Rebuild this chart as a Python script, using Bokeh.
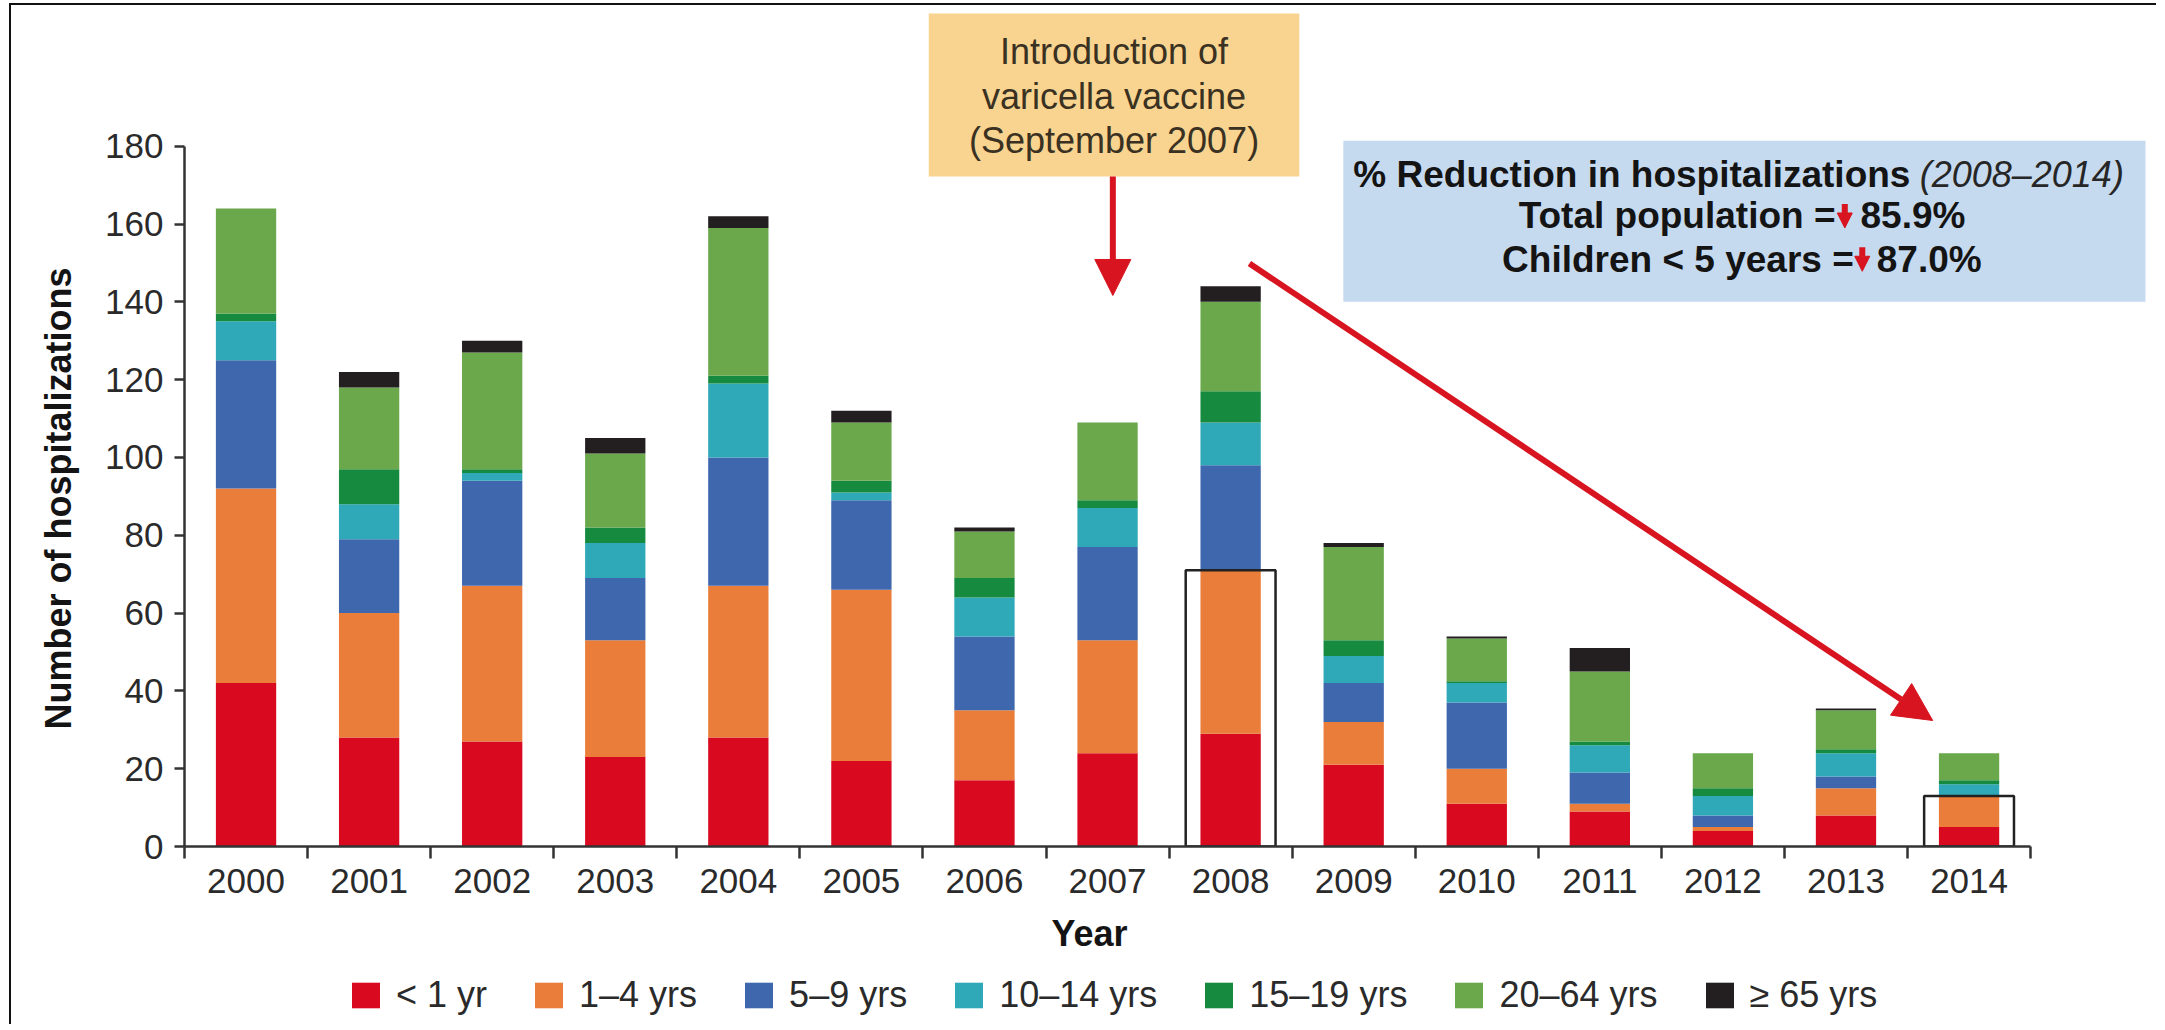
from bokeh.plotting import figure
from bokeh.layouts import column
from bokeh.models import (ColumnDataSource, Range1d, FixedTicker, Legend, LegendItem,
                          BoxAnnotation, Arrow, NormalHead, Label, Title)
from bokeh.embed import file_html
from bokeh.resources import INLINE

# ---------------- data ----------------
years = ["2000", "2001", "2002", "2003", "2004", "2005", "2006", "2007",
         "2008", "2009", "2010", "2011", "2012", "2013", "2014"]
age_groups = ["< 1 yr", "1–4 yrs", "5–9 yrs", "10–14 yrs", "15–19 yrs", "20–64 yrs", "≥ 65 yrs"]
under1 = [42, 28, 27, 23, 28, 22, 17, 24, 29, 21, 11, 9, 4, 8, 5]
y1_4 = [50, 32, 40, 30, 39, 44, 18, 29, 42, 11, 9, 2, 1, 7, 8]
y5_9 = [33, 19, 27, 16, 33, 23, 19, 24, 27, 10, 17, 8, 3, 3, 0]
y10_14 = [10, 9, 2, 9, 19, 2, 10, 10, 11, 7, 5, 7, 5, 6, 3]
y15_19 = [2, 9, 1, 4, 2, 3, 5, 2, 8, 4, 0.5, 1, 2, 1, 1]
y20_64 = [27, 21, 30, 19, 38, 15, 12, 20, 23, 24, 11, 18, 9, 10, 7]
y65plus = [0, 4, 3, 4, 3, 3, 1, 0, 4, 1, 0.5, 6, 0, 0.5, 0]
colors = ["#D9091F", "#E97D39", "#3E67AE", "#2FA9B8", "#168A3F", "#6AA84B", "#231F20"]
highlight_years = ["2008", "2014"]
y_ticks = [0, 20, 40, 60, 80, 100, 120, 140, 160, 180]
vaccine_note = ["Introduction of", "varicella vaccine", "(September 2007)"]
reduction_title = ["% Reduction in hospitalizations", "(2008–2014)"]
reduction_rows = [("Total population =", "85.9%"), ("Children < 5 years =", "87.0%")]

FONT = "Liberation Sans"
RED = "#D7141F"
AXIS = "#333333"
TXT = "#141414"

# page-pixel helpers for placing annotations (layout only)
X0, PX = 184.0, 123.2      # page x of the axis start, pixels per category
Y0, PY = 848.0, 3.89       # page y of value 0, pixels per unit
def fx(px):
    return (px - X0) / PX - 0.5
def fy(py):
    return (Y0 - py) / PY

keys = ["g0", "g1", "g2", "g3", "g4", "g5", "g6"]
series = [under1, y1_4, y5_9, y10_14, y15_19, y20_64, y65plus]
xpos = list(range(len(years)))
data = dict(x=xpos, year=years)
for k, s in zip(keys, series):
    data[k] = s
src = ColumnDataSource(data)

# canvas origin on the page: 9/3 px margin + 2 px border
W, H1, H2 = 2145, 897, 122
p = figure(width=W, height=H1,
           x_range=Range1d(-0.5, 15.458), y_range=Range1d(0, 214.9),
           output_backend="svg", toolbar_location=None,
           min_border_left=171, min_border_right=8, min_border_top=5, min_border_bottom=56)
p.outline_line_color = None
p.xgrid.visible = False
p.ygrid.visible = False

renderers = p.vbar_stack(keys, x="x", width=0.49, color=colors, source=src, line_color=None)

# outline boxes around the < 5 years part
hi_idx = [years.index(y) for y in highlight_years]
box_src = ColumnDataSource(dict(
    left=[xpos[i] - 0.365 for i in hi_idx],
    right=[xpos[i] + 0.365 for i in hi_idx],
    bottom=[0 for _ in hi_idx],
    top=[under1[i] + y1_4[i] for i in hi_idx],
))
p.quad(left="left", right="right", bottom="bottom", top="top", source=box_src,
       fill_color=None, line_color="#222222", line_width=2.5)

# ---------------- axes ----------------
xa = p.xaxis[0]
xa.ticker = FixedTicker(ticks=xpos, minor_ticks=[i - 0.5 for i in range(len(years) + 1)])
xa.major_label_overrides = {i: y for i, y in zip(xpos, years)}
xa.bounds = (-0.5, len(years) - 0.5)
xa.major_tick_in = 0
xa.major_tick_out = 0
xa.minor_tick_in = 0
xa.minor_tick_out = 12
xa.minor_tick_line_color = AXIS
xa.minor_tick_line_width = 2.5
xa.axis_line_color = AXIS
xa.axis_line_width = 2.5
xa.major_label_text_font = FONT
xa.major_label_text_font_size = "35px"
xa.major_label_text_color = "#2a2a2a"
xa.major_label_standoff = 10

ya = p.yaxis[0]
ya.ticker = FixedTicker(ticks=y_ticks, minor_ticks=[])
ya.bounds = (0, 180)
ya.major_tick_in = 0
ya.major_tick_out = 10
ya.major_tick_line_color = AXIS
ya.major_tick_line_width = 2.5
ya.axis_line_color = AXIS
ya.axis_line_width = 2.5
ya.major_label_text_font = FONT
ya.major_label_text_font_size = "35px"
ya.major_label_text_color = "#2a2a2a"
ya.major_label_standoff = 11

p.add_layout(Title(text="Number of hospitalizations", align="left", offset=117, standoff=48,
                   text_font=FONT, text_font_size="36px", text_font_style="bold",
                   text_color=TXT), "left")

# ---------------- annotations ----------------
p.add_layout(BoxAnnotation(left=fx(929), right=fx(1300), bottom=fy(178), top=fy(15),
                           fill_color="#F8D490", fill_alpha=1, line_color=None, level="underlay"))
for txt, py in zip(vaccine_note, [53.5, 98, 142]):
    p.add_layout(Label(x=fx(1114.5), y=fy(py), text=txt, text_align="center", text_baseline="middle",
                       text_font=FONT, text_font_size="36px", text_color="#3a3122"))

p.add_layout(Arrow(end=NormalHead(size=36, fill_color=RED, line_color=RED, line_width=1),
                   x_start=fx(1113.3), y_start=fy(178), x_end=fx(1113.3), y_end=fy(297),
                   line_color=RED, line_width=6))
p.add_layout(Arrow(end=NormalHead(size=38, fill_color=RED, line_color=RED, line_width=1),
                   x_start=fx(1250), y_start=fy(265), x_end=fx(1934), y_end=fy(722),
                   line_color=RED, line_width=6))

p.add_layout(BoxAnnotation(left=fx(1344), right=fx(2147), bottom=fy(303.3), top=fy(142.3),
                           fill_color="#C6DAEF", fill_alpha=1, line_color=None, level="underlay"))

def lab(px, py, text, align, style="bold", color=TXT, size="37px"):
    p.add_layout(Label(x=fx(px), y=fy(py), text=text, text_align=align, text_baseline="middle",
                       text_font=FONT, text_font_size=size, text_font_style=style,
                       text_color=color))

lab(1911.7, 175.8, reduction_title[0], "right")
lab(1921.0, 175.8, reduction_title[1], "left", style="italic", color="#262626", size="36px")
row_pos = [(217.5, 1836.7, 1846.0, 1861.7), (260.8, 1855.0, 1863.5, 1878.0)]
for (lhs, rhs), (py, xr, xa_, xl) in zip(reduction_rows, row_pos):
    lab(xr, py, lhs, "right")
    lab(xl, py, rhs, "left")
    p.add_layout(Arrow(end=NormalHead(size=15, fill_color=RED, line_color=RED, line_width=1),
                       x_start=fx(xa_), y_start=fy(py - 12), x_end=fx(xa_), y_end=fy(py + 12),
                       line_color=RED, line_width=6))

# ---------------- lower strip: axis title and legend ----------------
p2 = figure(width=W, height=H2, x_range=p.x_range, y_range=Range1d(0, H2),
            x_axis_type=None, y_axis_type=None, output_backend="svg", toolbar_location=None,
            min_border_left=171, min_border_right=8, min_border_top=0, min_border_bottom=0)
p2.outline_line_color = None
p2.add_layout(Label(x=fx(1090), y=H2 - (935 - 904), text="Year", text_align="center",
                    text_baseline="middle", text_font=FONT, text_font_size="36px",
                    text_font_style="bold", text_color=TXT))

# zero-height twins of the bar layers, only to give the legend its swatches
swatches = [p2.vbar(x="x", top=0, bottom=0, width=0.49, source=src, fill_color=c, line_color=None)
            for c in colors]
items = [LegendItem(label=g, renderers=[r]) for g, r in zip(age_groups, swatches)]
legend = Legend(items=items, orientation="horizontal", location=(164, 8),
                glyph_width=35, glyph_height=32, label_standoff=13, spacing=44,
                padding=0, margin=0, label_text_font=FONT, label_text_font_size="36px",
                label_text_color="#2a2a2a", background_fill_alpha=0, border_line_color=None)
p2.add_layout(legend)

layout = column(p, p2, spacing=0)
layout.styles = {"margin-left": "9px", "margin-top": "3px",
                 "border-left": "2px solid #111111", "border-top": "2px solid #111111"}

open("out.html", "w").write(file_html(layout, INLINE))
